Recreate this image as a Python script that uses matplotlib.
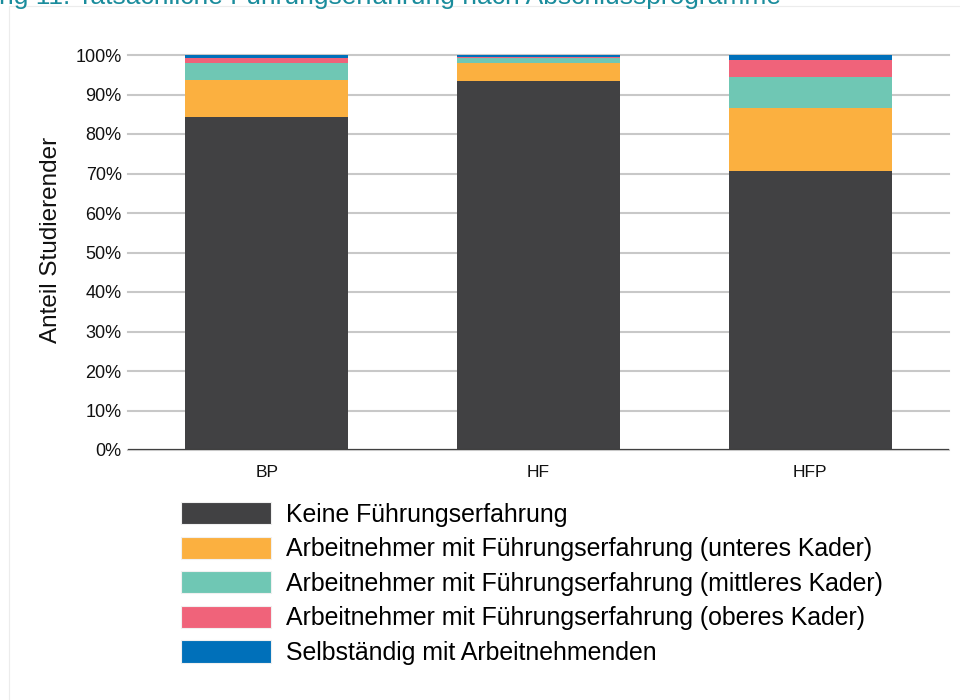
import matplotlib
matplotlib.use("Agg")
import matplotlib.pyplot as plt
from matplotlib.lines import Line2D
from matplotlib.patches import Patch
import numpy as np

plt.rcParams['font.family'] = ['Liberation Sans', 'DejaVu Sans']

categories = ["BP", "HF", "HFP"]
series_names = [
    "Keine Führungserfahrung",
    "Arbeitnehmer mit Führungserfahrung (unteres Kader)",
    "Arbeitnehmer mit Führungserfahrung (mittleres Kader)",
    "Arbeitnehmer mit Führungserfahrung (oberes Kader)",
    "Selbständig mit Arbeitnehmenden",
]
keine = [84.3, 93.4, 70.7]
unteres = [9.4, 4.5, 15.9]
mittleres = [4.3, 1.4, 7.8]
oberes = [1.3, 0.3, 4.3]
selbst = [0.7, 0.4, 1.3]
series_values = [keine, unteres, mittleres, oberes, selbst]
colors = ["#414143", "#FBB040", "#6FC7B4", "#F0637A", "#0070BA"]
yticks = [0, 10, 20, 30, 40, 50, 60, 70, 80, 90, 100]
title = "Abbildung 11: Tatsächliche Führungserfahrung nach Abschlussprogramme"

fig = plt.figure(figsize=(9.6, 7.0), dpi=100)
ax = fig.add_axes([128/960, 1-450/700, (949-128)/960, (450-55)/700])

x = np.arange(len(categories))
bottom = np.zeros(len(categories))
for vals, col, name in zip(series_values, colors, series_names):
    v = np.array(vals) / 100.0
    ax.bar(x, v, width=0.6, bottom=bottom, color=col, label=name, zorder=3,
           edgecolor='none')
    bottom += v

ax.set_xlim(-0.51, 2.51)
ax.set_ylim(0, 1.0)
ax.set_yticks([t/100 for t in yticks])
ax.set_yticklabels([f"{t}%" for t in yticks])
ax.set_xticks(x)
ax.set_xticklabels(categories)
ax.tick_params(axis='y', length=0, pad=4.5, labelsize=13, colors='#111111')
ax.tick_params(axis='x', length=0, pad=10.5, labelsize=12.5, colors='#111111')
for s in ax.spines.values():
    s.set_visible(False)
ax.yaxis.grid(True, color='#c8c8c8', linewidth=1.5, zorder=0)
ax.set_axisbelow(True)
ax.axhline(0, color='#404040', linewidth=1.6, zorder=4)
for gl in ax.get_ygridlines():
    gl.set_clip_on(False)

fig.text(51/960, 1-240/700, "Anteil Studierender", rotation=90, ha='center',
         va='center', fontsize=17.5, color='#111111')

handles = [Patch(facecolor=c, edgecolor='#f0f0f0', linewidth=0.8) for c in colors]
leg = fig.legend(handles, series_names, loc='upper left',
                 bbox_to_anchor=(181/960, 1-502/700), frameon=False,
                 fontsize=17.9, handlelength=3.6, handleheight=1.0,
                 labelspacing=0.40, handletextpad=0.62, borderpad=0,
                 borderaxespad=0)

fig.text(-89/960, 1-4/700, title, ha='left', va='baseline', fontsize=19,
         color='#1A8C9C')

fig.add_artist(Line2D([9/960, 9/960], [0, 1-6/700], transform=fig.transFigure,
                      color='#ececec', linewidth=0.8))
fig.add_artist(Line2D([9/960, 1], [1-6/700, 1-6/700], transform=fig.transFigure,
                      color='#ececec', linewidth=0.8))

fig.savefig("out.png", dpi=100)
